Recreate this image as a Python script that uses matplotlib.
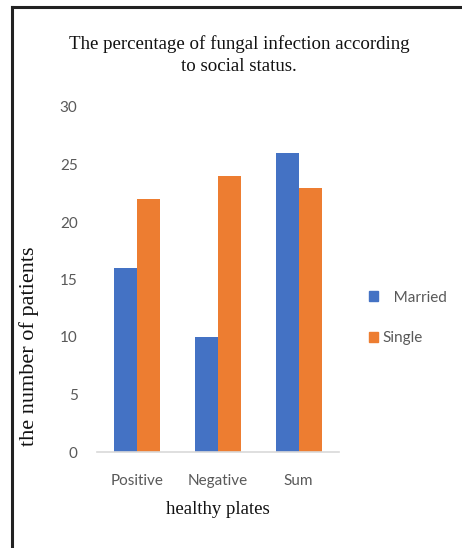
import matplotlib
matplotlib.use("Agg")
import matplotlib.pyplot as plt
import numpy as np
from matplotlib.patches import Rectangle
from matplotlib.lines import Line2D

categories = ["Positive", "Negative", "Sum"]
married = [16, 10, 26]
single = [22, 24, 23]
series_names = ["Married", "Single"]
yticks = [0, 5, 10, 15, 20, 25, 30]

title = "The percentage of fungal infection according\nto social status."
xlabel = "healthy plates"
ylabel = "the number of patients"

W, H = 462, 548
fig = plt.figure(figsize=(W / 100, H / 100), dpi=100)
fig.patch.set_facecolor("white")

ax = fig.add_axes([97 / W, 1 - 452 / H, (339 - 97) / W, (452 - 107) / H])
x = np.arange(len(categories))
bw = 0.285
blue = "#4472C4"
orange = "#ED7D31"
ax.bar(x - bw / 2, married, bw, color=blue, label=series_names[0])
ax.bar(x + bw / 2, single, bw, color=orange, label=series_names[1])
ax.set_xlim(-0.5, len(categories) - 0.5)
ax.set_ylim(0, 30)
ax.set_yticks(yticks)
ax.set_xticks(x)
ax.set_xticklabels(categories)
for s in ["top", "right", "left"]:
    ax.spines[s].set_visible(False)
ax.spines["bottom"].set_color("#D9D9D9")
ax.spines["bottom"].set_linewidth(1.2)
ax.tick_params(axis="both", length=0, labelcolor="#595959", labelsize=11)
ax.tick_params(axis="y", pad=14)
ax.tick_params(axis="x", pad=16)
for lab in ax.get_xticklabels() + ax.get_yticklabels():
    lab.set_family("Lato")

serif = "Liberation Serif"
fig.text(239 / W, 1 - 55 / H, title, ha="center", va="center", family=serif,
         fontsize=13.6, linespacing=1.4, color="#111111")
fig.text(218 / W, 1 - 510 / H, xlabel, ha="center", va="center", family=serif,
         fontsize=13.5, color="#111111")
fig.text(29 / W, 1 - 346 / H, ylabel, ha="center", va="center", rotation=90,
         family=serif, fontsize=16, color="#111111")

handles = [Rectangle((0, 0), 1, 1, color=blue), Rectangle((0, 0), 1, 1, color=orange)]
leg = fig.legend(handles, ["   " + series_names[0], series_names[1]],
                 loc="center left", bbox_to_anchor=(355 / W, 1 - 318 / H),
                 frameon=False, handlelength=0.6, handleheight=0.6,
                 handletextpad=0.3, labelspacing=1.75,
                 prop={"family": "Lato", "size": 11})
for t in leg.get_texts():
    t.set_color("#595959")

# outer frame (only left and top edges are visible)
fig.lines.append(Line2D([12 / W, 12 / W], [0, 1 - 7 / H], transform=fig.transFigure,
                        color="#222222", linewidth=2.2))
fig.lines.append(Line2D([12 / W, 1], [1 - 7 / H, 1 - 7 / H], transform=fig.transFigure,
                        color="#222222", linewidth=2.2))

fig.savefig("out.png", dpi=100)
